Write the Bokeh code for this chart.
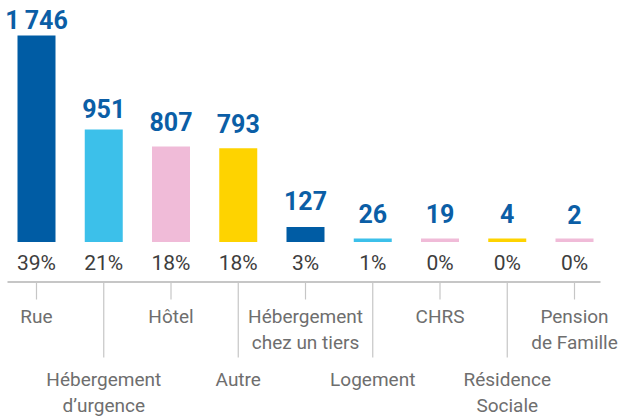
import numpy as np
from bokeh.plotting import figure
from bokeh.models import Range1d, ColumnDataSource
from bokeh.core.properties import value
from bokeh.embed import file_html
from bokeh.resources import INLINE

# ---- data ----
categories = ["Rue", "Hébergement\nd’urgence", "Hôtel", "Autre", "Hébergement\nchez un tiers",
              "Logement", "CHRS", "Résidence\nSociale", "Pension\nde Famille"]
counts = [1746, 951, 807, 793, 127, 26, 19, 4, 2]
percents = [39, 21, 18, 18, 3, 1, 0, 0, 0]
colors = ["#005ca4", "#3cc0ea", "#f0bbd8", "#fed300", "#005ca4",
          "#3cc0ea", "#f0bbd8", "#fed300", "#f0bbd8"]

# ---- layout (pixel positions) ----
W, H = 620, 419
x0_px, step_px = 36.0, 67.25          # first bar centre & spacing (px)
base_px, top_px = 241.5, 35.0         # baseline & top of largest bar (px)
upp = max(counts) / (base_px - top_px)  # data units per px
min_bar = 3.5 * upp                   # minimal visible bar height
tshift = 8                            # text baseline correction (px)

p = figure(width=W, height=H, output_backend="svg", toolbar_location=None,
           x_range=Range1d(-x0_px / step_px, (W - x0_px) / step_px),
           y_range=Range1d(-(H - base_px) * upp, base_px * upp),
           min_border=0)
p.extra_y_ranges = {"px": Range1d(H, 0)}
p.xaxis.visible = False
p.yaxis.visible = False
p.xgrid.visible = False
p.ygrid.visible = False
p.outline_line_color = None
p.background_fill_color = "white"

idx = np.arange(len(counts))
tops = np.maximum(np.array(counts, dtype=float), min_bar)
gaps = np.array([7, 13, 17, 17, 18, 17, 17, 17, 16])
src = ColumnDataSource(dict(
    x=idx, top=tops, color=colors,
    vlab=[f"{c:,}".replace(",", "\u2009") for c in counts],
    plab=[f"{v}%" for v in percents],
    gap=-(gaps + tshift),
))

p.vbar(x="x", top="top", bottom=0, width=38 / step_px, fill_color="color",
       line_color=None, source=src)

p.text(x="x", y="top", text="vlab", y_offset="gap", source=src,
       text_align="center", text_baseline="alphabetic",
       text_font=value("Roboto"), text_font_style="bold",
       text_font_size="25px", text_color="#0b5ea6")

p.text(x="x", y=0, text="plab", y_offset=28.5 - tshift, source=src,
       text_align="center", text_baseline="alphabetic",
       text_font=value("Roboto"), text_font_size="21px", text_color="#3d3d3d")

# axis line
p.segment(x0=(7 - x0_px) / step_px, x1=(600 - x0_px) / step_px, y0=281.5, y1=281.5,
          y_range_name="px", line_color="#c6c6c6", line_width=2)

# ticks (alternating short / long)
tick_end = [299 if i % 2 == 0 else 357 for i in idx]
p.segment(x0=idx, x1=idx, y0=[282.5] * len(idx), y1=tick_end,
          y_range_name="px", line_color="#c6c6c6", line_width=1.2)

# category labels
lx, ly, lt = [], [], []
for i, c in enumerate(categories):
    first = (323.5 if i % 2 == 0 else 386.5) - tshift
    for j, line in enumerate(c.split("\n")):
        lx.append(i)
        ly.append(first + 26.6 * j)
        lt.append(line)
p.text(x=lx, y=ly, text=lt, y_range_name="px",
       text_align="center", text_baseline="alphabetic",
       text_font=value("Roboto"), text_font_size="19px", text_color="#6e6e6e")

open("out.html", "w").write(file_html(p, INLINE))
